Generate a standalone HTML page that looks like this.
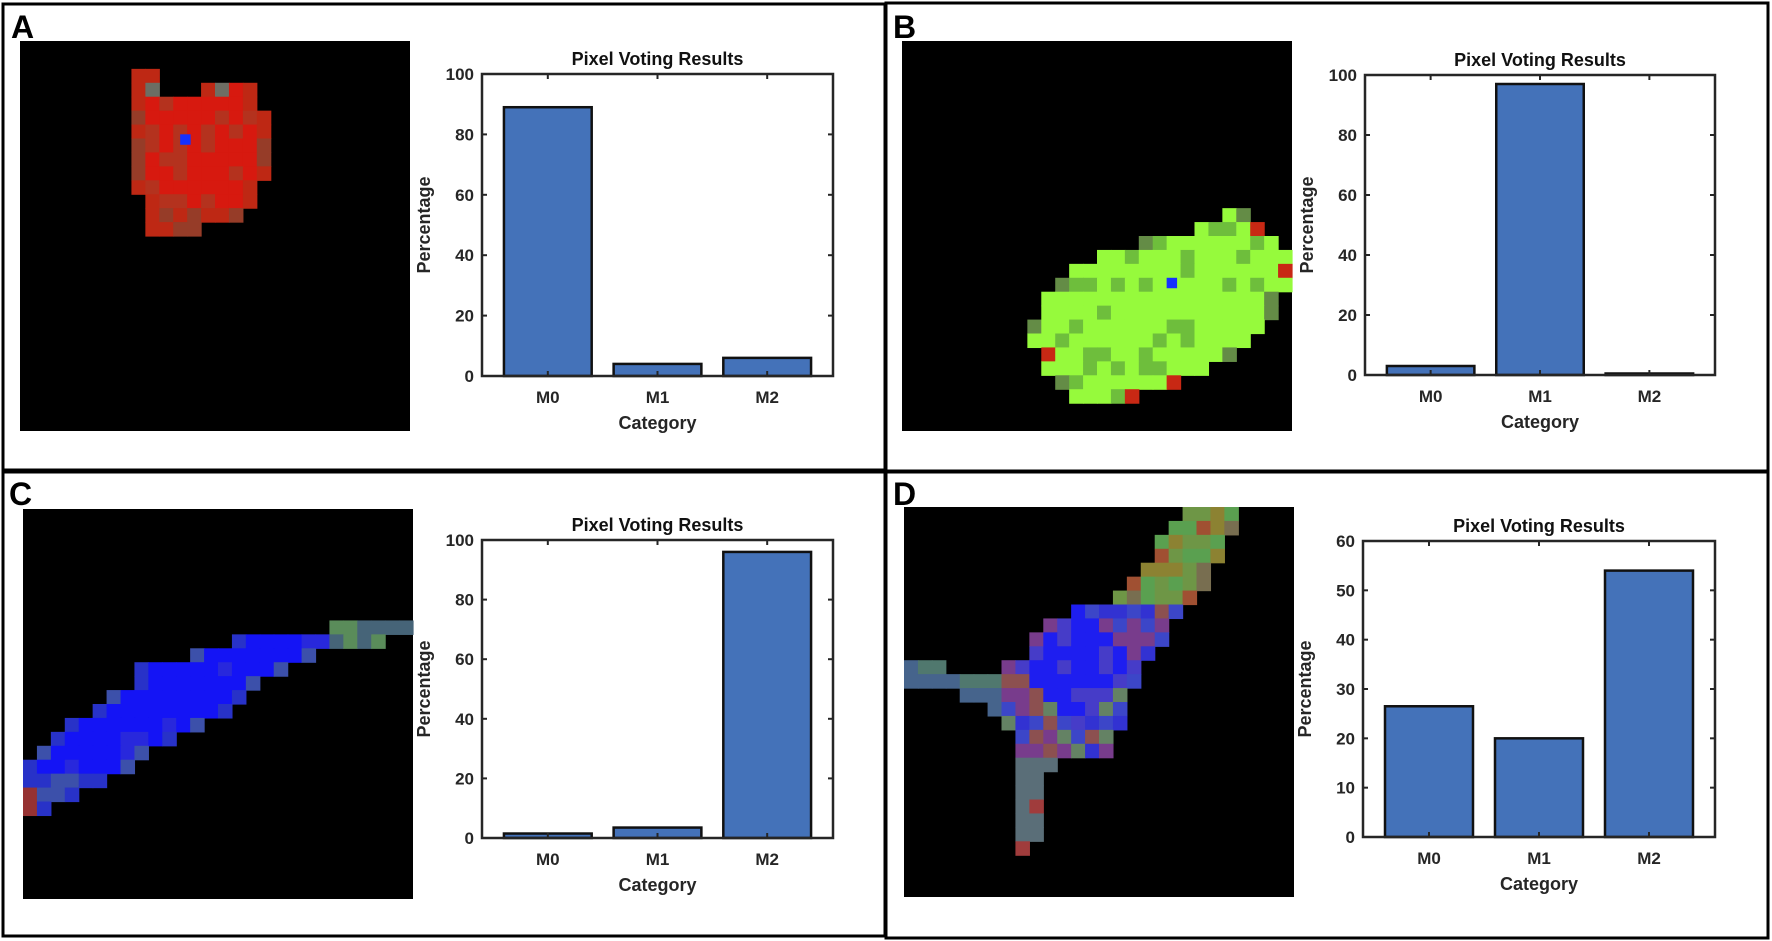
<!DOCTYPE html>
<html><head><meta charset="utf-8"><style>
html,body{margin:0;padding:0;background:#fff;}
svg{display:block;font-family:"Liberation Sans",Arial,sans-serif;}
</style></head><body>
<svg id="fig" width="1772" height="941" viewBox="0 0 1772 941" xmlns="http://www.w3.org/2000/svg">
<rect x="0" y="0" width="1772" height="941" fill="#fff"/>
<rect x="3" y="4" width="882" height="466" fill="none" stroke="#000" stroke-width="3"/>
<rect x="886" y="3" width="882" height="468" fill="none" stroke="#000" stroke-width="3"/>
<rect x="3" y="472" width="882" height="464" fill="none" stroke="#000" stroke-width="3"/>
<rect x="886" y="472" width="882" height="466" fill="none" stroke="#000" stroke-width="3"/>
<text x="11" y="38" font-size="32" font-weight="bold">A</text>
<text x="893" y="38" font-size="32" font-weight="bold">B</text>
<text x="9" y="505" font-size="32" font-weight="bold">C</text>
<text x="893" y="505" font-size="32" font-weight="bold">D</text>
<g id="layer"></g>
</svg>
<script>
const categories = ["M0","M1","M2"];
const valuesA = [89, 4, 6];
const valuesB = [3, 97, 0.5];
const valuesC = [1.5, 3.5, 96];
const valuesD = [26.5, 20, 54];
const ticksA = [0,20,40,60,80,100];
const ticksB = [0,20,40,60,80,100];
const ticksC = [0,20,40,60,80,100];
const ticksD = [0,10,20,30,40,50,60];

const NS = "http://www.w3.org/2000/svg";
const layer = document.getElementById("layer");
function mk(tag, attrs, parent){
  const e = document.createElementNS(NS, tag);
  for (const k in attrs) e.setAttribute(k, attrs[k]);
  (parent||layer).appendChild(e);
  return e;
}

function drawChart(id, box, vals, ticks){
  const g = mk("g", {});
  
  
  const L = box.l, R = box.r, T = box.t, B = box.b;
  const ymax = ticks[ticks.length-1];
  const yS = v => B - v / ymax * (B - T);
  const xS = u => L + (u - 0.4) / 3.2 * (R - L);
  const bw = 0.8 / 3.2 * (R - L);
  // bars
  vals.forEach((v, i) => {
    const r = mk("rect", {x: xS(i+1) - bw/2, y: yS(v), width: bw, height: B - yS(v), fill: "#4472B9", stroke: "#111", "stroke-width": 2.5}, g);
    
    
  });
  // axes box
  const ax = mk("rect", {x: L, y: T, width: R - L, height: B - T, fill: "none", stroke: "#262626", "stroke-width": 2.5}, g);
  
  
  // y ticks
  ticks.forEach(t => {
    const y = yS(t);
    mk("line", {x1: L, x2: L + 5, y1: y, y2: y, stroke: "#262626", "stroke-width": 2}, g);
    mk("line", {x1: R, x2: R - 5, y1: y, y2: y, stroke: "#262626", "stroke-width": 2}, g);
    const tx = mk("text", {x: L - 8, y: y + 6, "font-size": 17, "font-weight": "bold", fill: "#262626", "text-anchor": "end"}, g);
    tx.textContent = t;
    
    
  });
  // x ticks
  categories.forEach((c, i) => {
    const x = xS(i+1);
    mk("line", {x1: x, x2: x, y1: B, y2: B - 5, stroke: "#262626", "stroke-width": 2}, g);
    mk("line", {x1: x, x2: x, y1: T, y2: T + 5, stroke: "#262626", "stroke-width": 2}, g);
    const tx = mk("text", {x: x, y: B + 27, "font-size": 17, "font-weight": "bold", fill: "#262626", "text-anchor": "middle"}, g);
    tx.textContent = c;
    
    
  });
  const title = mk("text", {x: (L + R) / 2, y: T - 9, "font-size": 18, "font-weight": "bold", fill: "#111", "text-anchor": "middle"}, g);
  title.textContent = "Pixel Voting Results";
  
  
  const xl = mk("text", {x: (L + R) / 2, y: B + 53, "font-size": 18, "font-weight": "bold", fill: "#262626", "text-anchor": "middle"}, g);
  xl.textContent = "Category";
  
  
  const cy = (T + B) / 2, cx = L - 52;
  const yl = mk("text", {x: cx, y: cy, "font-size": 18, "font-weight": "bold", fill: "#262626", "text-anchor": "middle", transform: "rotate(-90 " + cx + " " + cy + ")"}, g);
  yl.textContent = "Percentage";
  
  
}

drawChart("a", {l: 482, r: 833, t: 74, b: 376}, valuesA, ticksA);
drawChart("b", {l: 1365, r: 1715, t: 75, b: 375}, valuesB, ticksB);
drawChart("c", {l: 482, r: 833, t: 540, b: 838}, valuesC, ticksC);
drawChart("d", {l: 1363, r: 1715, t: 541, b: 837}, valuesD, ticksD);

// ---- pixel images ----
function hash(a, b){ let h = (a * 374761393 + b * 668265263) >>> 0; h = (h ^ (h >>> 13)) * 1274126177 >>> 0; return (h % 1000) / 1000; }
function drawImage(id, x0, y0, rows, colorFn){
  const g = mk("g", {});
  
  
  const size = 390, n = 28, c = size / n;
  mk("rect", {x: x0, y: y0, width: size, height: size, fill: "#000"}, g);
  rows.forEach(([r, spans]) => {
    spans.forEach(([a, b]) => {
      for (let k = a; k <= b; k++) {
        mk("rect", {x: x0 + k * c, y: y0 + r * c, width: c + 0.6, height: c + 0.6, fill: colorFn(r, k, a, b)}, g);
      }
    });
  });
  return c;
}
function rgb(r,g,b){return "rgb("+Math.round(r)+","+Math.round(g)+","+Math.round(b)+")";}

const rowsA = [[2,[[8,9]]],[3,[[8,9],[13,16]]],[4,[[8,16]]],[5,[[8,17]]],[6,[[8,17]]],[7,[[8,17]]],[8,[[8,17]]],[9,[[8,17]]],[10,[[8,16]]],[11,[[9,16]]],[12,[[9,15]]],[13,[[9,12]]]];
let cA = drawImage("a", 20, 41, rowsA, (r,k,a,b) => {
  const h = hash(r,k);
  if (r <= 3 && h > 0.4) return rgb(80+h*60, 110, 100);
  if (k === a || k === b || r >= 12) return h > 0.5 ? rgb(150,60,40) : rgb(190,40,20);
  return h > 0.75 ? rgb(180,50,30) : rgb(215,25,15);
});
mk("rect", {x: 20 + 11.5*cA, y: 41 + 6.7*cA, width: cA*0.75, height: cA*0.75, fill: "#1530ff"});

const rowsB = [[12,[[23,24]]],[13,[[21,25]]],[14,[[17,26]]],[15,[[14,27]]],[16,[[12,27]]],[17,[[11,27]]],[18,[[10,26]]],[19,[[10,26]]],[20,[[9,25]]],[21,[[9,24]]],[22,[[10,23]]],[23,[[10,21]]],[24,[[11,19]]],[25,[[12,16]]]];
let cB = drawImage("b", 902, 41, rowsB, (r,k,a,b) => {
  const h = hash(r+50,k);
  if ((k === a || k === b) && h > 0.55) return h > 0.9 ? rgb(200,40,20) : rgb(100,140,70);
  return h > 0.8 ? rgb(110,190,60) : rgb(150,250,60);
});
mk("rect", {x: 902 + 19*cB, y: 41 + 17*cB, width: cB*0.75, height: cB*0.75, fill: "#1530ff"});

const rowsC = [[8,[[22,27]]],[9,[[15,25]]],[10,[[12,20]]],[11,[[8,18]]],[12,[[8,16]]],[13,[[6,15]]],[14,[[5,14]]],[15,[[3,12]]],[16,[[2,10]]],[17,[[1,8]]],[18,[[0,7]]],[19,[[0,5]]],[20,[[0,3]]],[21,[[0,1]]]];
drawImage("c", 23, 509, rowsC, (r,k,a,b) => {
  const h = hash(r+90,k);
  if (k >= 22) return h > 0.5 ? rgb(90,140,90) : rgb(70,100,120);
  if (r >= 20 && k === 0) return rgb(150,50,50);
  if (k === a || k === b || r >= 19) return h > 0.5 ? rgb(60,80,170) : rgb(40,50,200);
  return h > 0.85 ? rgb(40,40,220) : rgb(20,20,245);
});

const rowsD = [[0,[[20,23]]],[1,[[19,23]]],[2,[[18,22]]],[3,[[18,22]]],[4,[[17,21]]],[5,[[16,21]]],[6,[[15,20]]],[7,[[12,19]]],[8,[[10,18]]],[9,[[9,18]]],[10,[[9,17]]],[11,[[0,2],[7,16]]],[12,[[0,16]]],[13,[[4,15]]],[14,[[6,15]]],[15,[[7,15]]],[16,[[8,14]]],[17,[[8,14]]],[18,[[8,10]]],[19,[[8,9]]],[20,[[8,9]]],[21,[[8,9]]],[22,[[8,9]]],[23,[[8,9]]],[24,[[8,8]]]];
drawImage("d", 904, 507, rowsD, (r,k,a,b) => {
  const h = hash(r+130,k);
  if (r <= 6) { const p = [rgb(140,130,50),rgb(110,150,70),rgb(160,80,50),rgb(120,110,80),rgb(90,160,80)]; return p[Math.floor(h*5)]; }
  if (k <= 6) { return h > 0.5 ? rgb(80,120,110) : rgb(70,100,140); }
  if (r >= 18) { return h > 0.7 ? rgb(160,60,60) : rgb(90,110,120); }
  const center = Math.abs(k - 12) + Math.abs(r - 11) < 5;
  if (center) return h > 0.7 ? rgb(70,60,200) : rgb(30,30,240);
  const p = [rgb(120,60,140),rgb(60,70,200),rgb(140,80,80),rgb(100,130,100),rgb(50,50,210)];
  return p[Math.floor(h*5)];
});
</script>
</body></html>
